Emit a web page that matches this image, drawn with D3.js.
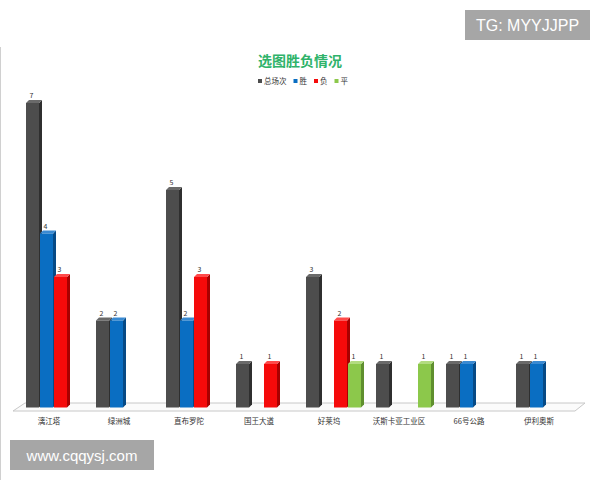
<!DOCTYPE html>
<html>
<head>
<meta charset="utf-8">
<script src="https://cdn.jsdelivr.net/npm/d3@7"></script>
<style>
  body { margin: 0; background: #fff; }
  svg { display: block; font-family: "Noto Sans CJK SC", "Noto Sans", sans-serif; }
</style>
</head>
<body>
<div id="chart"></div>
<script>
// data
const maps = ["漓江塔", "绿洲城", "直布罗陀", "国王大道", "好莱坞", "沃斯卡亚工业区", "66号公路", "伊利奥斯"];
const seriesNames = ["总场次", "胜", "负", "平"];
const total = [7, 2, 5, 1, 3, 1, 1, 1];
const wins  = [4, 2, 2, 0, 0, 0, 1, 1];
const loses = [3, 0, 3, 1, 2, 0, 0, 0];
const draws = [0, 0, 0, 0, 1, 1, 0, 0];
const seriesValues = [total, wins, loses, draws];

const front = ["#4d4d4d", "#0a6ec2", "#f50a0a", "#8cc84b"];
const side  = ["#2f2f2f", "#064a86", "#a80000", "#5f8f2e"];
const topc  = ["#6a6a6a", "#3a8ad2", "#ff4a4a", "#b2dc80"];

const W = 600, H = 480;
const svg = d3.select("#chart").append("svg").attr("width", W).attr("height", H);

// left border of chart area
svg.append("line").attr("x1", 0.5).attr("x2", 0.5).attr("y1", 47).attr("y2", H)
  .attr("stroke", "#d0d0d0");

// title
svg.append("text").attr("x", 300).attr("y", 66).attr("text-anchor", "middle")
  .attr("font-size", 14).attr("font-weight", "bold").attr("fill", "#2fb36a")
  .text("选图胜负情况");

// legend
const lg = svg.append("g").attr("transform", "translate(258,82)");
let lx = 0;
seriesNames.forEach((s, i) => {
  lg.append("rect").attr("x", lx).attr("y", -3).attr("width", 4).attr("height", 4).attr("fill", front[i]);
  lg.append("text").attr("x", lx + 6).attr("y", 1.5).attr("font-size", 7.5).attr("fill", "#333").text(s);
  lx += 6 + s.length * 7.5 + 7;
});

// scales
const x0 = d3.scaleBand().domain(maps).range([26, 26 + 70 * maps.length]);
const x1 = d3.scaleBand().domain(seriesNames).range([0, 56]);
const y = d3.scaleLinear().domain([0, 7]).range([407.5, 103]);
const dx = 3, dy = 3;

// floor
const fl = 13, fr = 575, fy = 411, bk = 8, bx = 10;
svg.append("path")
  .attr("d", `M${fl},${fy} L${fr},${fy} L${fr + bx},${fy - bk} L${fl + 12},${fy - bk} Z`)
  .attr("fill", "#fbfbfb").attr("stroke", "#c8c8c8").attr("stroke-width", 1);

// bars
const bars = [];
maps.forEach((m, i) => {
  seriesNames.forEach((s, j) => {
    const v = seriesValues[j][i];
    if (v > 0) bars.push({ m, s, j, v });
  });
});

const bw = x1.bandwidth() - 1;
const g = svg.append("g");
bars.forEach(d => {
  const bx0 = x0(d.m) + x1(d.s);
  const yt = y(d.v), yb = y(0);
  // side face
  g.append("path")
    .attr("d", `M${bx0 + bw},${yt} L${bx0 + bw + dx},${yt - dy} L${bx0 + bw + dx},${yb - dy} L${bx0 + bw},${yb} Z`)
    .attr("fill", side[d.j]);
  // top face
  g.append("path")
    .attr("d", `M${bx0},${yt} L${bx0 + dx},${yt - dy} L${bx0 + bw + dx},${yt - dy} L${bx0 + bw},${yt} Z`)
    .attr("fill", topc[d.j]);
  // front face
  g.append("rect").attr("x", bx0).attr("y", yt).attr("width", bw).attr("height", yb - yt)
    .attr("fill", front[d.j]);
  // value label
  g.append("text").attr("x", bx0 + bw / 2 - 1).attr("y", yt - 5)
    .attr("text-anchor", "middle").attr("font-size", 7).attr("fill", "#333").text(d.v);
});

// category labels
svg.append("g").selectAll("text").data(maps).join("text")
  .attr("x", d => x0(d) + 23).attr("y", 424)
  .attr("text-anchor", "middle").attr("font-size", 7.5).attr("fill", "#333")
  .text(d => d);

// watermarks
svg.append("rect").attr("x", 465).attr("y", 10).attr("width", 125).attr("height", 30).attr("fill", "#a6a6a6");
svg.append("text").attr("x", 527.5).attr("y", 31).attr("text-anchor", "middle")
  .attr("font-family", "Liberation Sans, Arial, sans-serif")
  .attr("font-size", 16).attr("fill", "#fff").text("TG: MYYJJPP");
svg.append("rect").attr("x", 10).attr("y", 440).attr("width", 144).attr("height", 30).attr("fill", "#a6a6a6");
svg.append("text").attr("x", 82).attr("y", 461).attr("text-anchor", "middle")
  .attr("font-family", "Liberation Sans, Arial, sans-serif")
  .attr("font-size", 15).attr("fill", "#fff").text("www.cqqysj.com");
</script>
</body>
</html>
